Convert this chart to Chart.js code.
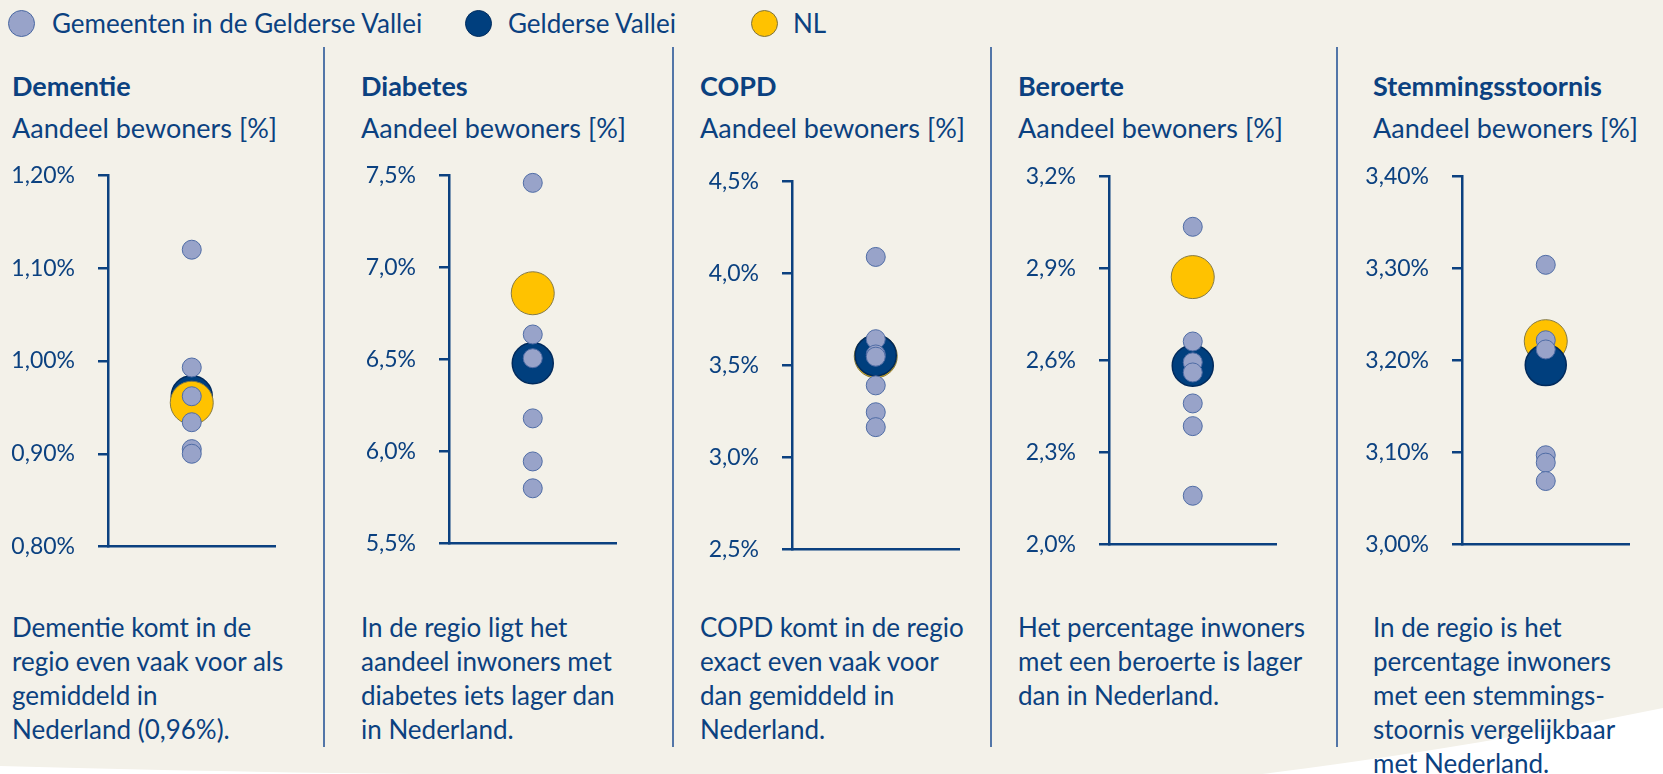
<!DOCTYPE html>
<html lang="nl">
<head>
<meta charset="utf-8">
<title>Chronische aandoeningen Gelderse Vallei</title>
<script src="https://cdn.jsdelivr.net/npm/chart.js@4.4.1/dist/chart.umd.min.js"></script>
<style>
  html, body { margin: 0; padding: 0; background: #ffffff; }
  #page { position: relative; width: 1663px; height: 774px; overflow: hidden; font-family: 'Lato', sans-serif; color: #0b4180; }
  #bg { position: absolute; left: 0; top: 0; }
  .legend { position: absolute; top: 8px; font-size: 26px; line-height: 1.2; white-space: nowrap; }
  .dot { position: absolute; width: 27px; height: 27px; border-radius: 50%; box-sizing: border-box; top: 10px; }
  .title { position: absolute; top: 70px; font-size: 27px; font-weight: bold; line-height: 1.2; white-space: nowrap; }
  .sub { position: absolute; top: 112px; font-size: 27px; line-height: 1.2; white-space: nowrap; }
  .caption { position: absolute; top: 610px; font-size: 26px; line-height: 34px; white-space: nowrap; }
  .sep { position: absolute; top: 47px; height: 700px; width: 2px; background: #5276a8; }
  canvas { position: absolute; }
</style>
</head>
<body>
<div id="page">
  <svg id="bg" width="1663" height="774">
    <path d="M0,0 L1663,0 L1663,708 Q1470,748 1262,774 L420,774 Q170,771 0,766 Z" fill="#f3f1e9"/>
  </svg>

  <span class="dot" style="left:8px; background:#98a3c9; border:1.5px solid #4a68a2;"></span>
  <div class="legend" style="left:52px;">Gemeenten in de Gelderse Vallei</div>
  <span class="dot" style="left:465px; background:#003f7e; border:1.5px solid #002c5e;"></span>
  <div class="legend" style="left:508px;">Gelderse Vallei</div>
  <span class="dot" style="left:751px; background:#ffc200; border:1.5px solid #7e7440;"></span>
  <div class="legend" style="left:793px;">NL</div>

  <div class="sep" style="left:323px;"></div>
  <div class="sep" style="left:672px;"></div>
  <div class="sep" style="left:990px;"></div>
  <div class="sep" style="left:1336px;"></div>
</div>

<script>
// aandoeningen
const panels = ['Dementie', 'Diabetes', 'COPD', 'Beroerte', 'Stemmingsstoornis'];

// aandeel bewoners [%] per gemeente
const gemeenten = [
  [1.12, 0.993, 0.962, 0.934, 0.905, 0.90],
  [7.46, 6.636, 6.507, 6.18, 5.946, 5.80],
  [4.09, 3.643, 3.56, 3.548, 3.392, 3.246, 3.165],
  [3.036, 2.662, 2.594, 2.561, 2.46, 2.386, 2.159],
  [3.304, 3.222, 3.212, 3.097, 3.089, 3.069]
];
const gelderseVallei = [0.962, 6.48, 3.555, 2.583, 3.195];
const nl = [0.955, 6.86, 3.55, 2.872, 3.221];

// y-as
const yMin = [0.80, 5.5, 2.5, 2.0, 3.00];
const yMax = [1.20, 7.5, 4.5, 3.2, 3.40];
const yStep = [0.10, 0.5, 0.5, 0.3, 0.10];
const decimals = [2, 1, 1, 1, 2];

const captions = [
  ['Dementie komt in de', 'regio even vaak voor als', 'gemiddeld in', 'Nederland (0,96%).'],
  ['In de regio ligt het', 'aandeel inwoners met', 'diabetes iets lager dan', 'in Nederland.'],
  ['COPD komt in de regio', 'exact even vaak voor', 'dan gemiddeld in', 'Nederland.'],
  ['Het percentage inwoners', 'met een beroerte is lager', 'dan in Nederland.'],
  ['In de regio is het', 'percentage inwoners', 'met een stemmings-', 'stoornis vergelijkbaar', 'met Nederland.']
];

// layout
const textLeft = [12, 361, 700, 1018, 1373];
const axisLeft = [108, 449, 792, 1109, 1462];
const axisTop = [173, 173, 179, 174, 174];
const axisBottom = [549, 546, 552, 547, 547];
const plotWidth = 170;
const yAxisWidth = 100;
const pad = 20;

const navy = '#0b4180';
const page = document.getElementById('page');

panels.forEach((name, i) => {
  const t = document.createElement('div');
  t.className = 'title';
  t.style.left = textLeft[i] + 'px';
  t.textContent = name;
  page.appendChild(t);

  const s = document.createElement('div');
  s.className = 'sub';
  s.style.left = textLeft[i] + 'px';
  s.textContent = 'Aandeel bewoners [%]';
  page.appendChild(s);

  const c = document.createElement('div');
  c.className = 'caption';
  c.style.left = textLeft[i] + 'px';
  c.innerHTML = captions[i].join('<br>');
  page.appendChild(c);

  const canvas = document.createElement('canvas');
  const w = yAxisWidth + plotWidth + pad;
  const h = axisBottom[i] - axisTop[i] + 2 * pad;
  canvas.width = w;
  canvas.height = h;
  canvas.style.left = (axisLeft[i] - yAxisWidth) + 'px';
  canvas.style.top = (axisTop[i] - pad) + 'px';
  page.appendChild(canvas);

  const light = {
    label: 'Gemeenten in de Gelderse Vallei',
    data: gemeenten[i].map(v => ({ x: 1, y: v })),
    backgroundColor: '#98a3c9',
    borderColor: '#4f6ca5',
    borderWidth: 1,
    pointRadius: 9.5,
    clip: false,
  };
  const gv = {
    label: 'Gelderse Vallei',
    data: [{ x: 1, y: gelderseVallei[i] }],
    backgroundColor: '#003f7e',
    borderColor: '#002a5c',
    borderWidth: 1.5,
    pointRadius: 20.5,
    clip: false,
  };
  const land = {
    label: 'NL',
    data: [{ x: 1, y: nl[i] }],
    backgroundColor: '#ffc200',
    borderColor: '#857a45',
    borderWidth: 1,
    pointRadius: 21.5,
    clip: false,
  };
  // eerste dataset ligt bovenop
  const datasets = i === 0 ? [light, land, gv] : [light, gv, land];

  new Chart(canvas, {
    type: 'scatter',
    data: { datasets },
    options: {
      responsive: false,
      animation: false,
      events: [],
      layout: { padding: { top: pad, bottom: pad, left: 0, right: pad } },
      plugins: { legend: { display: false }, tooltip: { enabled: false } },
      scales: {
        x: {
          min: 0,
          max: 2,
          ticks: { display: false },
          grid: { display: false },
          border: { display: true, color: navy, width: 2.5 },
          afterFit: (scale) => {
            scale.height = 0;
            scale.paddingLeft = 0;
            scale.paddingRight = 0;
          },
        },
        y: {
          min: yMin[i],
          max: yMax[i],
          afterBuildTicks: (scale) => {
            const ticks = [];
            for (let k = 0; k <= Math.round((yMax[i] - yMin[i]) / yStep[i]); k++) {
              ticks.push({ value: yMin[i] + k * yStep[i] });
            }
            scale.ticks = ticks;
          },
          ticks: {
            color: navy,
            padding: 23,
            font: { family: 'Lato', size: 23 },
            callback: (v) => v.toFixed(decimals[i]).replace('.', ',') + '%',
          },
          grid: { display: true, drawOnChartArea: false, drawTicks: true, tickLength: 10, color: navy, lineWidth: 2.5 },
          border: { display: true, color: navy, width: 2.5 },
          afterFit: (scale) => {
            scale.width = yAxisWidth;
            scale.paddingTop = 0;
            scale.paddingBottom = 0;
          },
        },
      },
    },
  });
});
</script>
</body>
</html>
